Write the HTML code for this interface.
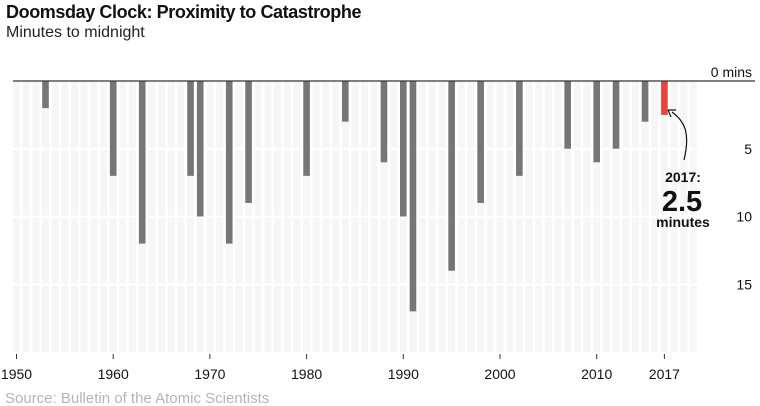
<!DOCTYPE html>
<html><head><meta charset="utf-8"><style>
body{margin:0;background:#fff;font-family:"Liberation Sans",sans-serif;}
#wrap{position:relative;width:760px;height:406px;overflow:hidden}
.t{position:absolute;left:6px;top:2px;font-size:18px;font-weight:bold;color:#111;letter-spacing:-0.4px}
.s{position:absolute;left:6px;top:24px;font-size:16px;color:#222}
</style></head><body>
<div id="wrap">
<div class="t">Doomsday Clock: Proximity to Catastrophe</div>
<div class="s">Minutes to midnight</div>
<svg id="c" width="760" height="406" style="position:absolute;left:0;top:0"></svg>
</div>
<script>
const years=[1953,1960,1963,1968,1969,1972,1974,1980,1984,1988,1990,1991,1995,1998,2002,2007,2010,2012,2015,2017];
const minutes=[2,7,12,7,10,12,9,7,3,6,10,17,14,9,7,5,6,5,3,2.5];
const yTicks=[5,10,15];
const xTicks=[1950,1960,1970,1980,1990,2000,2010,2017];
const ns="http://www.w3.org/2000/svg",svg=document.getElementById('c');
const x=y=>16.5+(y-1950)*9.67;
const yy=m=>81+m*13.55;
function el(t,a,p){const e=document.createElementNS(ns,t);for(const k in a)e.setAttribute(k,a[k]);(p||svg).appendChild(e);return e;}
for(let yr=1950;yr<=2020;yr++){
 for(let b=0;b<4;b++){
  const top=b==0?yy(0)+1:yy(b*5)+1.5,bot=b==3?352:yy((b+1)*5)-1;
  const r=el('rect',{x:x(yr)-3.5,y:top,width:7,height:bot-top,fill:'#f6f6f6'});
  
  
 }
}
years.forEach((yr,i)=>{
 const r=el('rect',{x:x(yr)-3.3,y:yy(0),width:6.6,height:yy(minutes[i])-yy(0),fill:yr==2017?'#e8433f':'#767676'});
 
 
});
const zl=el('line',{x1:13,x2:755,y1:81,y2:81,stroke:'#333','stroke-width':1.2});


const zt=el('text',{x:752,y:77,'text-anchor':'end','font-size':14,fill:'#111'});zt.textContent='0 mins';


yTicks.forEach(v=>{const t=el('text',{x:752,y:yy(v)+5,'text-anchor':'end','font-size':14,fill:'#111'});t.textContent=v;
 
 });
xTicks.forEach(v=>{
 const l=el('line',{x1:x(v),x2:x(v),y1:354,y2:359,stroke:'#333','stroke-width':1});
 
 
 const t=el('text',{x:x(v),y:379,'text-anchor':'middle','font-size':14,fill:'#111'});t.textContent=v;
 
 
});
const a=el('path',{d:'M684,160 C690,135 686,122 672,112',fill:'none',stroke:'#111','stroke-width':1.2});


const ah=el('path',{d:'M668,110 L676,110 M668,110 L671,117',fill:'none',stroke:'#111','stroke-width':1.2});


const a1=el('text',{x:683,y:182,'text-anchor':'middle','font-size':14,'font-weight':'bold',fill:'#111'});a1.textContent='2017:';


const a2=el('text',{x:682,y:211,'text-anchor':'middle','font-size':29,'font-weight':'bold',fill:'#111'});a2.textContent='2.5';


const a3=el('text',{x:683,y:227,'text-anchor':'middle','font-size':14,'font-weight':'bold',fill:'#111'});a3.textContent='minutes';


const src=el('text',{x:5,y:403,'font-size':15,fill:'#b5b5b5'});src.textContent='Source: Bulletin of the Atomic Scientists';


</script>
</body></html>
